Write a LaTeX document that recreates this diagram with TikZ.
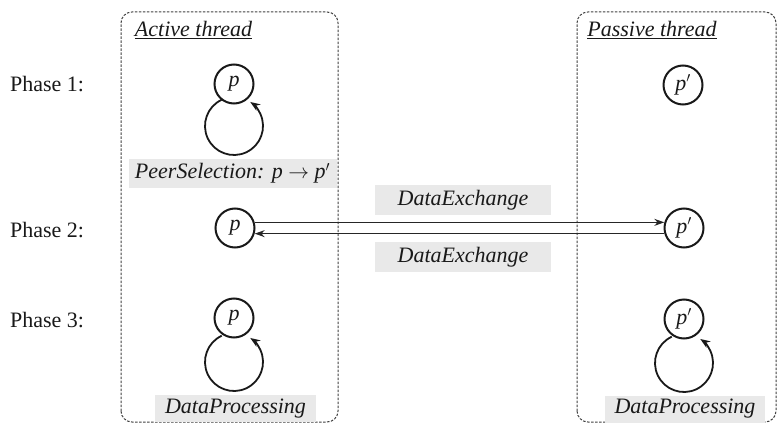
\documentclass[tikz,border=0pt]{standalone}
\usepackage{fontspec}
\setmainfont{Liberation Serif}
\usetikzlibrary{arrows.meta,calc}
\begin{document}
\begin{tikzpicture}[x=1pt,y=1pt,
  every node/.style={font=\fontsize{22}{26}\selectfont, text=black!90},
  peer/.style={circle,draw=black!90,line width=2pt,minimum size=39pt,inner sep=0pt,font=\fontsize{22}{26}\selectfont\itshape},
  lbl/.style={fill=gray!17,inner sep=0pt,minimum height=29pt,font=\fontsize{22}{26}\selectfont\itshape},
  frame/.style={draw=black!75,dash pattern=on 2.5pt off 1.5pt,line width=1pt,rounded corners=11pt},
  conn/.style={draw=black!85,line width=1.3pt,-{Stealth[length=10pt,width=7pt]}},
  loopar/.style={draw=black!90,line width=1.8pt,-{Stealth[length=10pt,width=7.5pt]}}]
\useasboundingbox (0,0) rectangle (778,429);
\draw[frame] (121,7) rectangle (338,417);
\draw[frame] (577,7) rectangle (776,417);
\node (t1) at (193.5,399) {\textit{\underline{Active thread}}};
\node (t2) at (652,399) {\textit{\underline{Passive thread}}};
\node (ph1) at (47,345) {Phase 1:};
\node (ph2) at (47,199) {Phase 2:};
\node (ph3) at (47,109) {Phase 3:};
\node[peer] (p1) at (234,345) {p};
\node[peer] (p2) at (235,201) {p};
\node[peer] (p3) at (234,111) {p};
\node[peer] (pp1) at (683,344) {p$'$};
\node[peer] (pp2) at (684,201) {p$'$};
\node[peer] (pp3) at (684,110) {p$'$};
\draw[loopar] ($(p1)+(0,-42)+(115:29)$) arc[start angle=115,end angle=416,radius=29];
\draw[loopar] ($(p3)+(0,-44)+(115:29)$) arc[start angle=115,end angle=416,radius=29];
\draw[loopar] ($(pp3)+(0,-44)+(115:29)$) arc[start angle=115,end angle=416,radius=29];
\node[lbl,minimum width=208pt] (ps) at (232.5,255.5) {PeerSelection: p $\rightarrow$ p$'$};
\node[lbl,minimum width=176pt,minimum height=30pt] (de1) at (463,229) {DataExchange};
\node[lbl,minimum width=176pt,minimum height=30pt] (de2) at (463,172) {DataExchange};
\node[lbl,minimum width=161pt,minimum height=27pt] (dp1) at (235.5,20.5) {DataProcessing};
\node[lbl,minimum width=160pt,minimum height=27pt] (dp2) at (685,20) {DataProcessing};
\draw[conn] (p2.16) -- (pp2.164);
\draw[conn] (pp2.196) -- (p2.-16);
\end{tikzpicture}
\end{document}
